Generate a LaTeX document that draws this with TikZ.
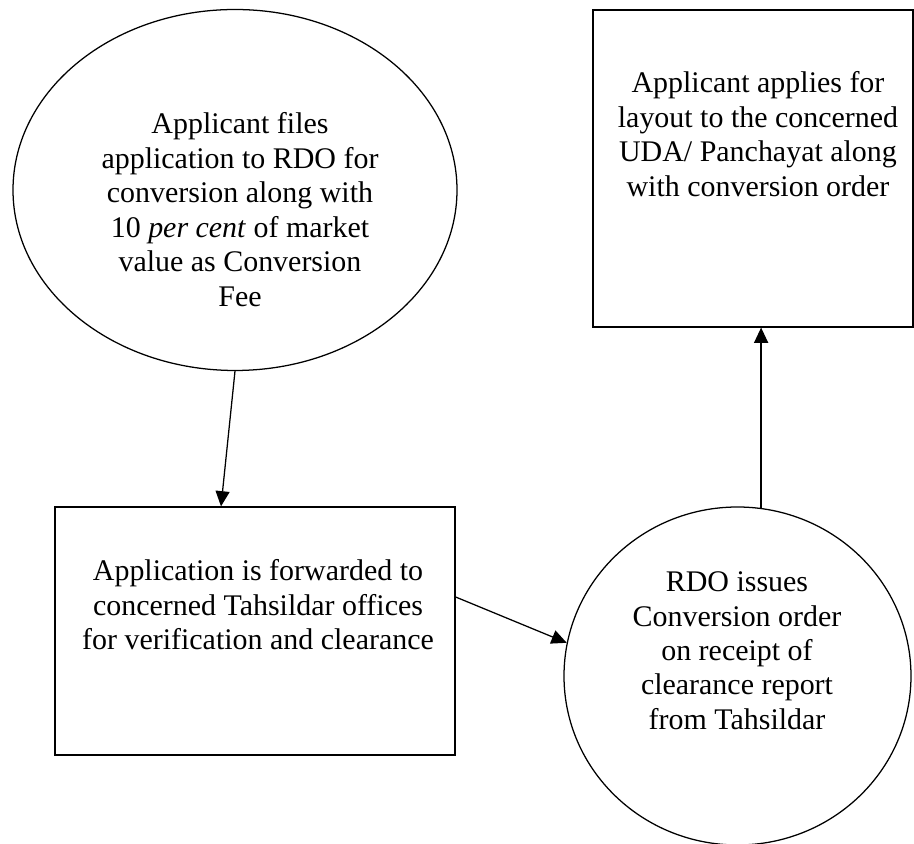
\documentclass[tikz,border=0pt]{standalone}
\usepackage{fontspec}
\setmainfont{Liberation Serif}
\usetikzlibrary{arrows.meta, shapes.geometric}

\begin{document}
\begin{tikzpicture}[scale=1,
        box/.style = {draw, line width=0.9pt, rectangle, inner sep=0pt},
        bubble/.style = {draw, line width=0.9pt, ellipse, inner sep=0pt},
        txt/.style = {align=center, anchor=north, inner sep=0pt, font=\fontsize{21.3}{24.5}\selectfont},
        flow/.style = {line width=0.9pt, -{Triangle[length=3.8mm, width=3.5mm]}}]

        \useasboundingbox (0,0) rectangle (22.85,21.1);

        % shapes
        \node[bubble, minimum width=11.1cm, minimum height=9.025cm] (fee) at (5.875,16.35) {};
        \node[box, minimum width=8.0cm, minimum height=7.925cm] (layout) at (18.825,16.8875) {};
        \node[box, minimum width=10.0cm, minimum height=6.2cm] (fwd) at (6.375,5.325) {};
        \node[bubble, minimum width=8.675cm, minimum height=8.45cm] (rdo) at (18.4375,4.2) {};

        % texts
        \node[txt] (feetxt) at (6.0,18.2875) {Applicant files\\ application to RDO for\\ conversion along with\\ 10 \textit{per cent} of market\\ value as Conversion\\ Fee};
        \node[txt] (layouttxt) at (18.95,19.3125) {Applicant applies for\\ layout to the concerned\\ UDA/ Panchayat along\\ with conversion order};
        \node[txt] (fwdtxt) at (6.45,7.1125) {Application is forwarded to\\ concerned Tahsildar offices\\ for verification and clearance};
        \node[txt] (rdotxt) at (18.425,6.8125) {RDO issues\\ Conversion order\\ on receipt of\\ clearance report\\ from Tahsildar};

        %%%%%%%%%%%%%%%%%%%%%%%%%%%%%%%%%%%%%%%%%%%%%%%%%%%%%%%%%%%%%%%%%%%%%

        \draw [flow] (fee.south) -- ([xshift=-0.85cm]fwd.north);
        \draw [flow] ([yshift=0.85cm]fwd.east) -- (rdo.169);
        \draw [flow] (rdo.82.7) -- (rdo.82.7 |- layout.south);

\end{tikzpicture}
\end{document}
